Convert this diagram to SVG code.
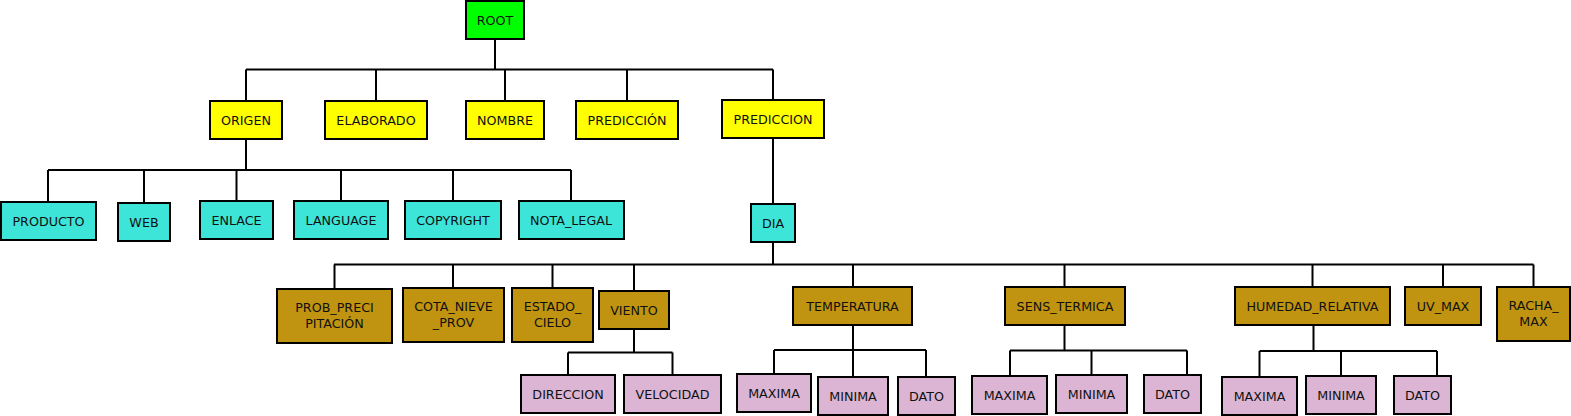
<svg xmlns="http://www.w3.org/2000/svg" width="1571" height="416" viewBox="0 0 1571 416">
<style>
rect{stroke:#000;stroke-width:2}
.g{fill:#00ff00}.y{fill:#ffff00}.c{fill:#3ce5d8}.o{fill:#c09410}.p{fill:#dbb5d3}
text{font-family:"DejaVu Sans",sans-serif;font-size:12.7px;text-anchor:middle;fill:#111}
#connectors path{fill:none;stroke:#000;stroke-width:2}
</style>
<rect width="1571" height="416" fill="#fff" style="stroke:none"/>
<g id="connectors">
<path d="M495 39V69.5M246 69.5H773M246 69.5V101M376 69.5V101M505 69.5V101M627 69.5V101M773 69.5V100"/>
<path d="M246 139V170M48 170H571M48 170V202M144 170V203M236.5 170V201M341 170V201M453 170V201M571 170V201"/>
<path d="M773 138V204"/>
<path d="M773 242V264.5M334 264.5H1533.5M334.5 264.5V289M453 264.5V288M552.5 264.5V288M634 264.5V291M853 264.5V287M1064.5 264.5V287M1312.5 264.5V287M1443 264.5V287M1533.5 264.5V287"/>
<path d="M634 329V352.5M568 352.5H672.5M568 352.5V375M672.5 352.5V375"/>
<path d="M853 325V350M774 350H926M774 350V374M853 350V377M926 350V377"/>
<path d="M1064.5 325V350.5M1010 350.5H1187M1010 350.5V376M1091.5 350.5V375M1187 350.5V375"/>
<path d="M1313.5 325V351M1259.5 351H1437M1259.5 351V377M1341 351V376M1437 351V376"/>
</g>
<g id="root"><rect class="g" x="466" y="1" width="58" height="38"/><text x="495" y="24.5">ROOT</text></g>
<g id="origen"><rect class="y" x="210" y="101" width="72" height="38"/><text x="246" y="124.5">ORIGEN</text></g>
<g id="elaborado"><rect class="y" x="325" y="101" width="102" height="38"/><text x="376" y="124.5">ELABORADO</text></g>
<g id="nombre"><rect class="y" x="466" y="101" width="78" height="38"/><text x="505" y="124.5">NOMBRE</text></g>
<g id="prediccion-acc"><rect class="y" x="576" y="101" width="102" height="38"/><text x="627" y="124.5">PREDICCIÓN</text></g>
<g id="prediccion"><rect class="y" x="722" y="100" width="102" height="38"/><text x="773" y="123.5">PREDICCION</text></g>
<g id="producto"><rect class="c" x="1" y="202" width="95" height="38"/><text x="48.5" y="225.5">PRODUCTO</text></g>
<g id="web"><rect class="c" x="118" y="203" width="52" height="38"/><text x="144" y="226.5">WEB</text></g>
<g id="enlace"><rect class="c" x="200" y="201" width="73" height="38"/><text x="236.5" y="224.5">ENLACE</text></g>
<g id="language"><rect class="c" x="294" y="201" width="94" height="38"/><text x="341" y="224.5">LANGUAGE</text></g>
<g id="copyright"><rect class="c" x="405" y="201" width="96" height="38"/><text x="453" y="224.5">COPYRIGHT</text></g>
<g id="nota_legal"><rect class="c" x="519" y="201" width="105" height="38"/><text x="571" y="224.5">NOTA_LEGAL</text></g>
<g id="dia"><rect class="c" x="751" y="204" width="44" height="38"/><text x="773" y="227.5">DIA</text></g>
<g id="prob_precipitacion"><rect class="o" x="277" y="289" width="115" height="54"/><text x="334.5" y="312">PROB_PRECI</text><text x="334.5" y="327.5">PITACIÓN</text></g>
<g id="cota_nieve_prov"><rect class="o" x="403" y="288" width="101" height="54"/><text x="453.5" y="311">COTA_NIEVE</text><text x="453.5" y="326.5">_PROV</text></g>
<g id="estado_cielo"><rect class="o" x="512" y="288" width="81" height="54"/><text x="552.5" y="311">ESTADO_</text><text x="552.5" y="326.5">CIELO</text></g>
<g id="viento"><rect class="o" x="599" y="291" width="70" height="38"/><text x="634" y="314.5">VIENTO</text></g>
<g id="temperatura"><rect class="o" x="793" y="287" width="119" height="38"/><text x="852.5" y="310.5">TEMPERATURA</text></g>
<g id="sens_termica"><rect class="o" x="1005" y="287" width="120" height="38"/><text x="1065" y="310.5">SENS_TERMICA</text></g>
<g id="humedad_relativa"><rect class="o" x="1235" y="287" width="155" height="38"/><text x="1312.5" y="310.5">HUMEDAD_RELATIVA</text></g>
<g id="uv_max"><rect class="o" x="1405" y="287" width="76" height="38"/><text x="1443" y="310.5">UV_MAX</text></g>
<g id="racha_max"><rect class="o" x="1497" y="287" width="73" height="54"/><text x="1533.5" y="310">RACHA_</text><text x="1533.5" y="325.5">MAX</text></g>
<g id="direccion"><rect class="p" x="521" y="375" width="94" height="38"/><text x="568" y="398.5">DIRECCION</text></g>
<g id="velocidad"><rect class="p" x="624" y="375" width="97" height="38"/><text x="672.5" y="398.5">VELOCIDAD</text></g>
<g id="temp_maxima"><rect class="p" x="737" y="374" width="74" height="38"/><text x="774" y="397.5">MAXIMA</text></g>
<g id="temp_minima"><rect class="p" x="818" y="377" width="70" height="38"/><text x="853" y="400.5">MINIMA</text></g>
<g id="temp_dato"><rect class="p" x="898" y="377" width="57" height="38"/><text x="926.5" y="400.5">DATO</text></g>
<g id="sens_maxima"><rect class="p" x="972" y="376" width="75" height="38"/><text x="1009.5" y="399.5">MAXIMA</text></g>
<g id="sens_minima"><rect class="p" x="1056" y="375" width="71" height="38"/><text x="1091.5" y="398.5">MINIMA</text></g>
<g id="sens_dato"><rect class="p" x="1144" y="375" width="57" height="38"/><text x="1172.5" y="398.5">DATO</text></g>
<g id="hum_maxima"><rect class="p" x="1222" y="377" width="75" height="38"/><text x="1259.5" y="400.5">MAXIMA</text></g>
<g id="hum_minima"><rect class="p" x="1306" y="376" width="70" height="38"/><text x="1341" y="399.5">MINIMA</text></g>
<g id="hum_dato"><rect class="p" x="1394" y="376" width="57" height="38"/><text x="1422.5" y="399.5">DATO</text></g>
</svg>
